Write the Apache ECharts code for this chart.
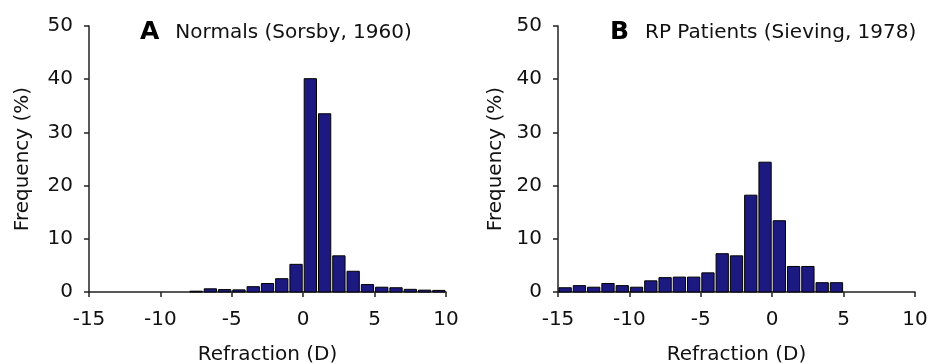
<!DOCTYPE html>
<html>
<head>
<meta charset="utf-8">
<script src="https://cdn.jsdelivr.net/npm/echarts@6/dist/echarts.min.js"></script>
<style>
html,body{margin:0;padding:0;background:#fff;}
#chart{width:928px;height:364px;}
</style>
</head>
<body>
<div id="chart"></div>
<script>
// Panel A: Normals (Sorsby, 1960) - bin start (D) and frequency (%)
var binsA = [-8, -7, -6, -5, -4, -3, -2, -1, 0, 1, 2, 3, 4, 5, 6, 7, 8, 9];
var valuesA = [0.15, 0.6, 0.45, 0.4, 1.0, 1.6, 2.5, 5.2, 40.1, 33.5, 6.8, 3.9, 1.4, 0.9, 0.8, 0.5, 0.35, 0.3];
// Panel B: RP Patients (Sieving, 1978)
var binsB = [-15, -14, -13, -12, -11, -10, -9, -8, -7, -6, -5, -4, -3, -2, -1, 0, 1, 2, 3, 4];
var valuesB = [0.8, 1.2, 0.9, 1.6, 1.2, 0.9, 2.1, 2.7, 2.8, 2.8, 3.6, 7.2, 6.8, 18.2, 24.4, 13.4, 4.8, 4.8, 1.75, 1.75];
var xTicks = [-15, -10, -5, 0, 5, 10];
var yTicks = [0, 10, 20, 30, 40, 50];
var titleA = ['A', 'Normals (Sorsby, 1960)'];
var titleB = ['B', 'RP Patients (Sieving, 1978)'];
var xName = 'Refraction (D)';
var yName = 'Frequency (%)';

var FONT = 'DejaVu Sans';
var BAR = '#1c1980';
var AX = '#222';

function pairs(bins, vals){ return bins.map(function(b,i){ return [b, vals[i]]; }); }

function renderBar(params, api){
  var k = api.value(0), v = api.value(1);
  var p0 = api.coord([k, 0]);
  var p1 = api.coord([k + 1, v]);
  var x0 = p0[0] + 1, x1 = p1[0] - 1;
  return {
    type: 'rect',
    shape: {x: x0, y: p1[1], width: x1 - x0, height: p0[1] - p1[1]},
    style: {fill: BAR, stroke: '#000', lineWidth: 1}
  };
}

function xAxis(idx){
  return {
    type: 'value', gridIndex: idx, min: xTicks[0], max: xTicks[xTicks.length-1], interval: 5,
    name: xName, nameLocation: 'middle', nameGap: 53,
    nameTextStyle: {fontFamily: FONT, fontSize: 20, color: '#111'},
    axisLine: {onZero: false, lineStyle: {color: AX, width: 1.5}},
    axisTick: {show: true, length: 5, lineStyle: {color: AX, width: 1.5}},
    axisLabel: {fontFamily: FONT, fontSize: 20, color: '#111', margin: 18},
    splitLine: {show: false}
  };
}
function yAxis(idx, gap){
  return {
    type: 'value', gridIndex: idx, min: yTicks[0], max: yTicks[yTicks.length-1], interval: 10,
    name: yName, nameLocation: 'middle', nameGap: gap, nameRotate: 90,
    nameTextStyle: {fontFamily: FONT, fontSize: 20, color: '#111'},
    axisLine: {show: true, onZero: false, lineStyle: {color: AX, width: 1.5}},
    axisTick: {show: true, length: 5, lineStyle: {color: AX, width: 1.5}},
    axisLabel: {fontFamily: FONT, fontSize: 20, color: '#111', margin: 16},
    splitLine: {show: false}
  };
}
function title(t, left){
  return {
    text: '{a|' + t[0] + '}{b|' + t[1] + '}',
    left: left, top: 15,
    textStyle: {
      rich: {
        a: {fontFamily: FONT, fontSize: 25, fontWeight: 'bold', color: '#000', padding: [0, 16, 0, 0]},
        b: {fontFamily: FONT, fontSize: 20, fontWeight: 'normal', color: '#111'}
      }
    }
  };
}

var chart = echarts.init(document.getElementById('chart'), null, {renderer: 'canvas'});
chart.setOption({
  backgroundColor: '#fff',
  animation: false,
  title: [title(titleA, 135), title(titleB, 605)],
  grid: [
    {left: 89, width: 357, top: 26, height: 266, containLabel: false, outerBoundsMode: 'none'},
    {left: 558, width: 357, top: 26, height: 266, containLabel: false, outerBoundsMode: 'none'}
  ],
  xAxis: [xAxis(0), xAxis(1)],
  yAxis: [yAxis(0, 56), yAxis(1, 52)],
  series: [
    {type: 'custom', xAxisIndex: 0, yAxisIndex: 0, renderItem: renderBar, data: pairs(binsA, valuesA), encode: {x: 0, y: 1}},
    {type: 'custom', xAxisIndex: 1, yAxisIndex: 1, renderItem: renderBar, data: pairs(binsB, valuesB), encode: {x: 0, y: 1}}
  ]
});
</script>
</body>
</html>
